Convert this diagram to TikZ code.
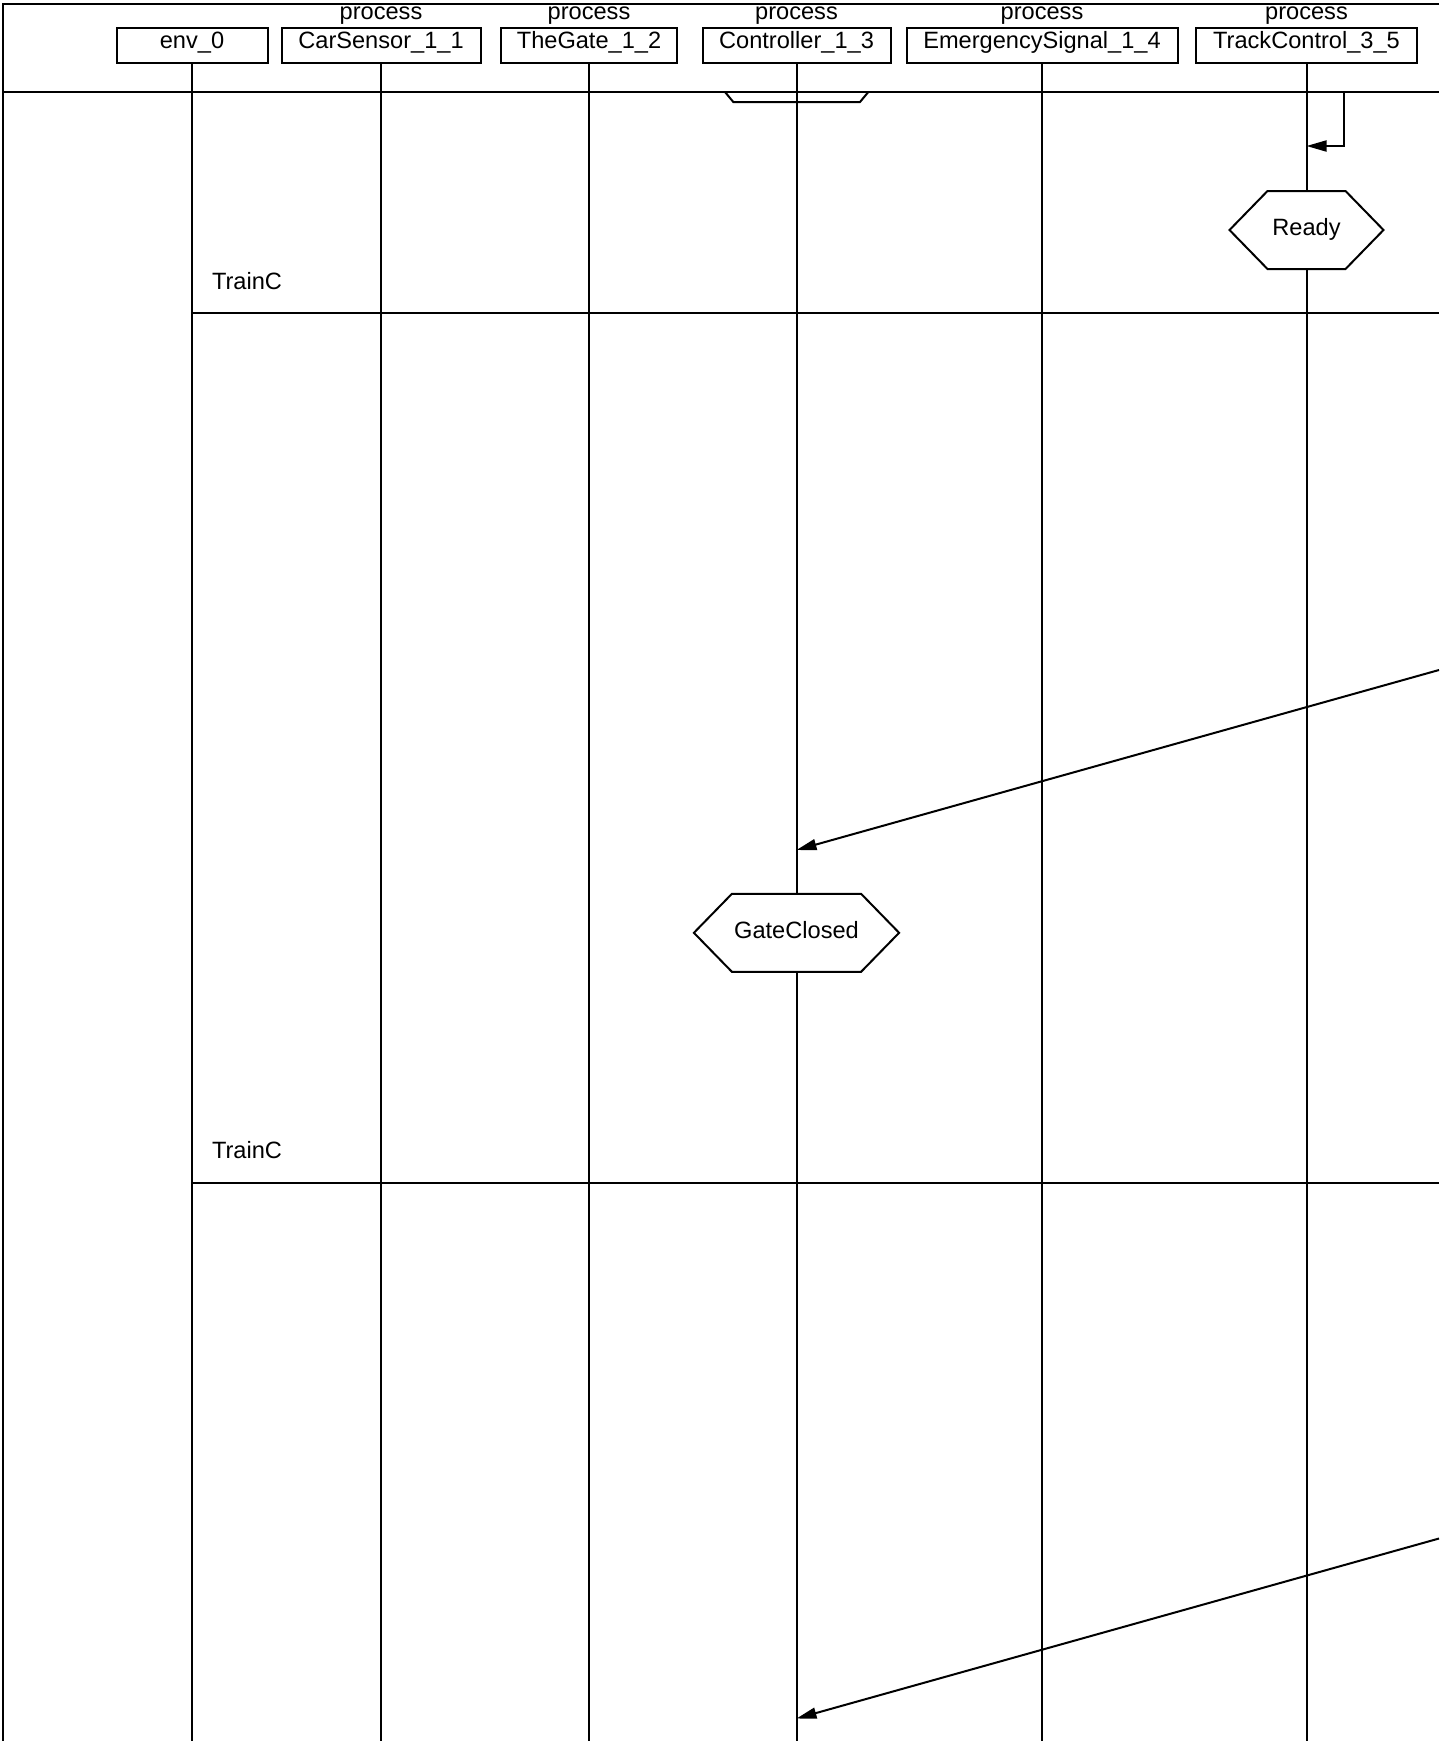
\documentclass[tikz,border=0pt]{standalone}
\usepackage{fontspec}
\setmainfont{Liberation Sans}
\usetikzlibrary{arrows.meta}
\begin{document}
\begin{tikzpicture}[x=0.5pt,y=-0.5pt,line width=1pt,
  txt/.style={font=\fontsize{11.8}{14}\selectfont,inner sep=0pt},
  procbox/.style={txt,draw,rectangle,text height=10.25pt,text depth=7.5pt},
  hexnode/.style={txt,rectangle,minimum height=38pt,text height=8.8pt,text depth=3pt},
  msg/.style={-{Triangle[length=10pt,width=5.5pt]}}]
\useasboundingbox (0,0) rectangle (1445,1741);
% frame
\coordinate (ftl) at (2.5,4);
\coordinate (ftr) at (1439,4);
\coordinate (fbl) at (2.5,1741);
\coordinate (hl) at (2.5,92);
\coordinate (hr) at (1439,92);
\draw (ftr) -- (ftl) -- (fbl);
\draw (hl) -- (hr);
% instance boxes
\node[procbox,minimum width=75.5pt] (env) at (192,45.25) {env\_0};
\node[procbox,minimum width=99.5pt] (car) at (381,45.25) {CarSensor\_1\_1};
\node[procbox,minimum width=88pt] (gate) at (589,45.25) {TheGate\_1\_2};
\node[procbox,minimum width=94pt] (ctrl) at (796.5,45.25) {Controller\_1\_3};
\node[procbox,minimum width=135.5pt] (emg) at (1042,45.25) {EmergencySignal\_1\_4};
\node[procbox,minimum width=110.5pt] (trk) at (1306.5,45.25) {TrackControl\_3\_5};
% process labels
\node[txt,anchor=base] (pcar) at (381,19.5) {process};
\node[txt,anchor=base] (pgate) at (589,19.5) {process};
\node[txt,anchor=base] (pctrl) at (796.5,19.5) {process};
\node[txt,anchor=base] (pemg) at (1042,19.5) {process};
\node[txt,anchor=base] (ptrk) at (1306.5,19.5) {process};
% lifeline ends
\coordinate (envE) at (192,1741);
\coordinate (carE) at (381,1741);
\coordinate (gateE) at (589,1741);
\coordinate (ctrlE) at (796.5,1741);
\coordinate (emgE) at (1042,1741);
\coordinate (trkE) at (1306.5,1741);
% conditions (hexagons)
\node[hexnode,minimum width=76pt] (rdy) at (1306.5,230) {Ready};
\node[hexnode,minimum width=101.6pt] (gc) at (796.5,932.8) {GateClosed};
\foreach \h in {rdy,gc}{
  \draw (\h.west) -- ([xshift=19pt]\h.north west) -- ([xshift=-19pt]\h.north east)
    -- (\h.east) -- ([xshift=-19pt]\h.south east) -- ([xshift=19pt]\h.south west) -- cycle;
}
% lifelines
\draw (env.south) -- (envE);
\draw (car.south) -- (carE);
\draw (gate.south) -- (gateE);
\draw (ctrl.south) -- (gc.north);
\draw (gc.south) -- (ctrlE);
\draw (emg.south) -- (emgE);
\draw (trk.south) -- (rdy.north);
\draw (rdy.south) -- (trkE);
% controller mark below header
\coordinate (m1) at (725,92);
\coordinate (m2) at (733.3,102);
\coordinate (m3) at (860,102);
\coordinate (m4) at (868.3,92);
\draw (m1) -- (m2) -- (m3) -- (m4);
% self message on TrackControl
\coordinate (s1) at (1344,92);
\coordinate (s2) at (1344,146);
\coordinate (s3) at (1306.5,146);
\draw[msg] (s1) -- (s2) -- (s3);
% TrainC sections
\node[txt,anchor=base west] (t1) at (211,289) {TrainC};
\coordinate (l1a) at (192,313);
\coordinate (l1b) at (1439,313);
\draw (l1a) -- (l1b);
\node[txt,anchor=base west] (t2) at (211,1158.5) {TrainC};
\coordinate (l2a) at (192,1182.5);
\coordinate (l2b) at (1439,1182.5);
\draw (l2a) -- (l2b);
% incoming messages
\coordinate (a1s) at (1439,670);
\coordinate (a1e) at (796.5,850);
\draw[msg] (a1s) -- (a1e);
\coordinate (a2s) at (1439,1538.5);
\coordinate (a2e) at (796.5,1718.5);
\draw[msg] (a2s) -- (a2e);
\end{tikzpicture}
\end{document}
